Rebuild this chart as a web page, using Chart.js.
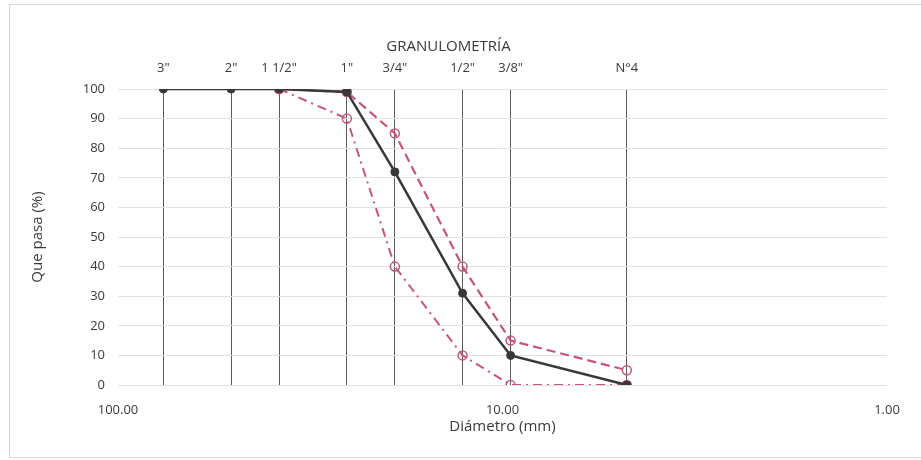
<!DOCTYPE html>
<html>
<head>
<meta charset="utf-8">
<script src="https://cdn.jsdelivr.net/npm/chart.js@4"></script>
<style>
  html, body { margin: 0; padding: 0; background: #ffffff; }
  #wrap { position: relative; width: 921px; height: 460px; }
  #frame { position: absolute; left: 9px; top: 4px; width: 930px; height: 454px;
           border: 1px solid #d6d6d6; box-sizing: border-box; pointer-events: none; }
</style>
</head>
<body>
<div id="wrap">
  <canvas id="c" width="921" height="460"></canvas>
  <div id="frame"></div>
</div>
<script>
// Sieve openings (mm) and their names
const sieveLabels = ['3"', '2"', '1 1/2"', '1"', '3/4"', '1/2"', '3/8"', 'N°4'];
const sieveSizes  = [76.2, 50.8, 38.1, 25.4, 19.05, 12.7, 9.525, 4.75];

// % passing – sample curve and the two limits (null = not defined)
const pasaMuestra     = [100, 100, 100, 99, 72, 31, 10, 0];
const limiteSuperior  = [null, null, 100, 99, 85, 40, 15, 5];
const limiteInferior  = [null, null, 100, 90, 40, 10, 0, 0];

// Bottom axis ticks
const diamTicks       = [100, 10, 1];
const diamTickLabels  = ['100.00', '10.00', '1.00'];

const yTicks = [0, 10, 20, 30, 40, 50, 60, 70, 80, 90, 100];

function toPoints(values) {
  const pts = [];
  values.forEach((v, i) => { if (v !== null) pts.push({ x: sieveSizes[i], y: v }); });
  return pts;
}

const textColor = '#3a3a3a';
const pink = '#c4567a';
const dark = '#383838';
const fontFam = "'Open Sans', 'Liberation Sans', sans-serif";

new Chart(document.getElementById('c'), {
  type: 'line',
  data: {
    datasets: [
      {
        label: 'Muestra',
        data: toPoints(pasaMuestra),
        borderColor: dark,
        backgroundColor: dark,
        borderWidth: 2.5,
        pointRadius: 4,
        pointBackgroundColor: dark,
        pointBorderColor: dark,
        pointBorderWidth: 1,
        tension: 0
      },
      {
        label: 'Límite superior',
        data: toPoints(limiteSuperior),
        borderColor: pink,
        borderWidth: 2.2,
        borderDash: [9, 5],
        pointRadius: 4.5,
        pointBackgroundColor: 'rgba(255,255,255,0)',
        pointBorderColor: pink,
        pointBorderWidth: 1.5,
        tension: 0
      },
      {
        label: 'Límite inferior',
        data: toPoints(limiteInferior),
        borderColor: pink,
        borderWidth: 2,
        borderDash: [9, 5, 2, 5],
        pointRadius: 4.5,
        pointBackgroundColor: 'rgba(255,255,255,0)',
        pointBorderColor: pink,
        pointBorderWidth: 1.5,
        tension: 0
      }
    ]
  },
  options: {
    responsive: false,
    animation: false,
    devicePixelRatio: 1,
    layout: { padding: { left: 10, right: 34, top: 38, bottom: 0 } },
    plugins: {
      legend: { display: false },
      tooltip: { enabled: false },
      title: {
        display: true,
        text: 'GRANULOMETRÍA',
        color: textColor,
        font: { family: fontFam, size: 15, weight: 'normal' },
        padding: { top: 0, bottom: 0 }
      }
    },
    scales: {
      x: {
        type: 'logarithmic',
        position: 'bottom',
        min: 1, max: 100,
        reverse: true,
        afterBuildTicks: (s) => { s.ticks = diamTicks.map(v => ({ value: v })); },
        afterFit: (s) => { s.height = 75; },
        ticks: {
          autoSkip: false, maxRotation: 0, padding: 9,
          color: textColor,
          font: { family: fontFam, size: 13 },
          callback: (v, i) => diamTickLabels[i]
        },
        grid: { display: false },
        border: { display: false },
        title: {
          display: true, text: 'Diámetro (mm)', color: textColor,
          font: { family: fontFam, size: 15 },
          padding: { top: 0, bottom: 24 }
        }
      },
      xTop: {
        type: 'logarithmic',
        position: 'top',
        min: 1, max: 100,
        reverse: true,
        afterBuildTicks: (s) => { s.ticks = sieveSizes.map(v => ({ value: v })); },
        afterFit: (s) => { s.height = 33; },
        ticks: {
          autoSkip: false, maxRotation: 0, padding: 13,
          color: textColor,
          font: { family: fontFam, size: 13 },
          callback: (v, i) => sieveLabels[i]
        },
        grid: { color: '#5a5a5a', lineWidth: 1, drawTicks: false },
        border: { display: false }
      },
      y: {
        min: 0, max: 100,
        afterBuildTicks: (s) => { s.ticks = yTicks.map(v => ({ value: v })); },
        afterFit: (s) => { s.width = 108; },
        ticks: {
          padding: 13, color: textColor,
          font: { family: fontFam, size: 13 }
        },
        grid: { color: '#e2e2e2', lineWidth: 1, drawTicks: false },
        border: { display: false },
        title: {
          display: true, text: 'Que pasa (%)', color: textColor,
          font: { family: fontFam, size: 15 },
          padding: { top: 19, bottom: 0 }
        }
      }
    }
  }
});
</script>
</body>
</html>
